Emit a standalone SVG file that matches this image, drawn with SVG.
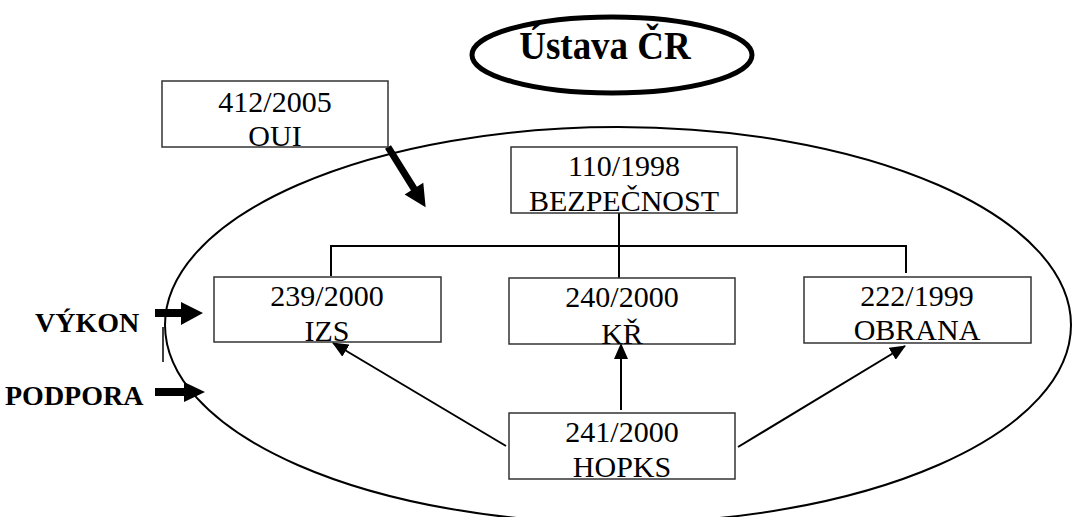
<svg xmlns="http://www.w3.org/2000/svg" width="1072" height="517" viewBox="0 0 1072 517">
<style>
.box{fill:#fff;stroke:#333;stroke-width:1.5}
.t{font-family:"Liberation Serif","Times New Roman",serif;font-size:30px;fill:#000;text-anchor:middle}
.b{font-family:"Liberation Serif","Times New Roman",serif;font-size:28px;font-weight:bold;fill:#000}
.ln{fill:none;stroke:#000;stroke-width:2}
.thick{fill:#000}
</style>
<defs>
<marker id="ah" markerWidth="16" markerHeight="14" refX="15" refY="7" orient="auto" markerUnits="userSpaceOnUse">
<path d="M0,0 L16,7 L0,14 Z" fill="#000"/>
</marker>
</defs>
<rect width="1072" height="517" fill="#fff"/>
<g id="scope">
<ellipse cx="618" cy="325" rx="453" ry="198" fill="none" stroke="#000" stroke-width="2"/>
</g>
<g id="ustava">
<ellipse cx="612" cy="55" rx="140" ry="38" fill="none" stroke="#000" stroke-width="5"/>
<text class="b" style="font-size:37px" text-anchor="middle" transform="translate(605,59) scale(1,1.1)">Ústava ČR</text>
</g>
<g id="connectors">
<path class="ln" d="M619,213 V278 M331,276 V246 H906 V273"/>
<line class="ln" x1="506" y1="446" x2="333" y2="343" marker-end="url(#ah)"/>
<line class="ln" x1="621" y1="410" x2="621" y2="344" marker-end="url(#ah)"/>
<line class="ln" x1="738" y1="447" x2="905" y2="346" marker-end="url(#ah)"/>
<path class="thick" transform="translate(388,147) rotate(58)" d="M0,-3.5 H49 V-11 L71,0 L49,11 V3.5 H0 Z"/>
<path class="thick" d="M155,309 H181 V302 L203,313 L181,325 V317 H155 Z"/>
<path class="thick" d="M155,388 H184 V382 L205,392 L184,402 V396 H155 Z"/>
<line x1="163" y1="327" x2="163" y2="362" stroke="#000" stroke-width="1.5"/>
</g>
<g id="oui">
<rect class="box" x="162" y="81" width="226" height="66"/>
<text class="t" x="275" y="112">412/2005</text>
<text class="t" x="275" y="146">OUI</text>
</g>
<g id="bezpecnost">
<rect class="box" x="511" y="147" width="226" height="66"/>
<text class="t" x="624" y="176">110/1998</text>
<text class="t" x="624" y="211">BEZPEČNOST</text>
</g>
<g id="izs">
<rect class="box" x="214" y="277" width="227" height="65"/>
<text class="t" x="327" y="306">239/2000</text>
<text class="t" x="327" y="341">IZS</text>
</g>
<g id="kr">
<rect class="box" x="509" y="278" width="226" height="66"/>
<text class="t" x="622" y="307">240/2000</text>
<text class="t" x="622" y="344">KŘ</text>
</g>
<g id="obrana">
<rect class="box" x="804" y="277" width="227" height="66"/>
<text class="t" x="917" y="306">222/1999</text>
<text class="t" x="917" y="340">OBRANA</text>
</g>
<g id="hopks">
<rect class="box" x="509" y="413" width="226" height="66"/>
<text class="t" x="622" y="442">241/2000</text>
<text class="t" x="622" y="477">HOPKS</text>
</g>
<g id="labels">
<text class="b" x="35" y="332">VÝKON</text>
<text class="b" x="5" y="405">PODPORA</text>
</g>
</svg>
